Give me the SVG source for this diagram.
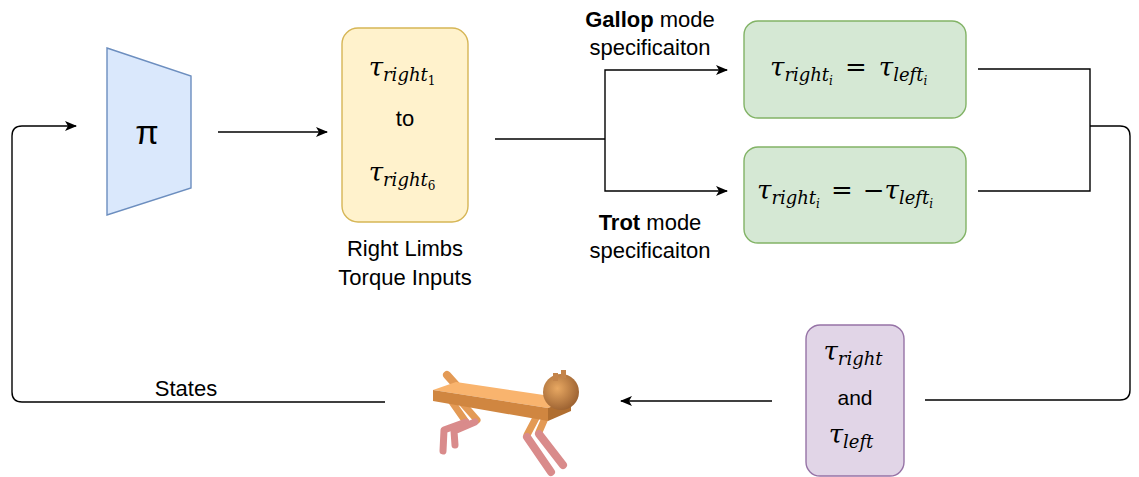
<svg xmlns="http://www.w3.org/2000/svg" width="1139" height="477" viewBox="0 0 1139 477">
  <defs>
    <marker id="arrow" viewBox="0 0 12 10" refX="11" refY="5" markerWidth="12" markerHeight="10" markerUnits="userSpaceOnUse" orient="auto">
      <path d="M0,0 L12,5 L0,10 L3,5 Z" fill="#000"/>
    </marker>
    <radialGradient id="headShade" cx="0.4" cy="0.4" r="0.65">
      <stop offset="0" stop-color="#e8a862"/>
      <stop offset="1" stop-color="#9a6030"/>
    </radialGradient>
  </defs>
  <style>
    .lbl { font-family: "Liberation Sans", Arial, sans-serif; font-size: 22px; fill: #000; }
    .math { font-family: "DejaVu Serif", "Liberation Serif", serif; font-style: italic; fill: #000; }
    .up { font-style: normal; }
    .wire { fill: none; stroke: #000; stroke-width: 1.4; }
    .tan { stroke: #e39a55; stroke-linecap: round; fill: none; }
    .pink { stroke: #d98b8b; stroke-linecap: round; fill: none; }
  </style>

  <rect width="1139" height="477" fill="#fff"/>

  <!-- connectors -->
  <g id="connectors">
    <path class="wire" d="M385,402 H22 Q12,402 12,392 V136 Q12,126 22,126 H76" marker-end="url(#arrow)"/>
    <path class="wire" d="M218,132 H327" marker-end="url(#arrow)"/>
    <path class="wire" d="M495,139 H605"/>
    <path class="wire" d="M605,139 V70 H727" marker-end="url(#arrow)"/>
    <path class="wire" d="M605,139 V191 H727" marker-end="url(#arrow)"/>
    <path class="wire" d="M978,69 H1090 V191 H978"/>
    <path class="wire" d="M1090,126 H1120 Q1130,126 1130,136 V390 Q1130,400 1120,400 H925"/>
    <path class="wire" d="M772,401 H621" marker-end="url(#arrow)"/>
  </g>

  <!-- policy network -->
  <g id="policy">
    <polygon points="107,48 191,76 191,188 107,215" fill="#dae8fc" stroke="#6c8ebf" stroke-width="1.4"/>
    <text x="147" y="144" class="lbl" style="font-size:34px" text-anchor="middle">π</text>
  </g>

  <!-- right limb torques -->
  <g id="right-torques">
    <rect x="342" y="28" width="126" height="194" rx="16" fill="#fff2cc" stroke="#d6b656" stroke-width="1.4"/>
    <text x="402" y="76" class="math" text-anchor="middle"><tspan font-size="26">τ</tspan><tspan font-size="18" dy="5">right</tspan><tspan class="up" font-size="12" dy="4">1</tspan></text>
    <text x="405" y="126" class="lbl" text-anchor="middle">to</text>
    <text x="402" y="181" class="math" text-anchor="middle"><tspan font-size="26">τ</tspan><tspan font-size="18" dy="5">right</tspan><tspan class="up" font-size="12" dy="4">6</tspan></text>
    <text x="405" y="256" class="lbl" text-anchor="middle">Right Limbs</text>
    <text x="405" y="285" class="lbl" text-anchor="middle">Torque Inputs</text>
  </g>

  <!-- gallop mode -->
  <g id="gallop">
    <text x="650" y="27" class="lbl" text-anchor="middle"><tspan font-weight="bold">Gallop</tspan> mode</text>
    <text x="650" y="55" class="lbl" text-anchor="middle">specificaiton</text>
    <rect x="744" y="21" width="222" height="97" rx="14" fill="#d5e8d4" stroke="#82b366" stroke-width="1.4"/>
    <text x="770" y="76" class="math"><tspan font-size="26">τ</tspan><tspan font-size="18" dy="5">right</tspan><tspan font-size="12" dy="4">i</tspan><tspan class="up" font-size="26" dy="-9" dx="12">=</tspan><tspan font-size="26" dx="12">τ</tspan><tspan font-size="18" dy="5">left</tspan><tspan font-size="12" dy="4">i</tspan></text>
  </g>

  <!-- trot mode -->
  <g id="trot">
    <rect x="744" y="147" width="222" height="96" rx="14" fill="#d5e8d4" stroke="#82b366" stroke-width="1.4"/>
    <text x="757" y="199" class="math"><tspan font-size="26">τ</tspan><tspan font-size="18" dy="5">right</tspan><tspan font-size="12" dy="4">i</tspan><tspan class="up" font-size="26" dy="-9" dx="11">=</tspan><tspan class="up" font-size="26" dx="10">−</tspan><tspan font-size="26">τ</tspan><tspan font-size="18" dy="5">left</tspan><tspan font-size="12" dy="4">i</tspan></text>
    <text x="650" y="230" class="lbl" text-anchor="middle"><tspan font-weight="bold">Trot</tspan> mode</text>
    <text x="650" y="258" class="lbl" text-anchor="middle">specificaiton</text>
  </g>

  <!-- combined torques -->
  <g id="all-torques">
    <rect x="806" y="325" width="98" height="151" rx="14" fill="#e1d5e7" stroke="#9673a6" stroke-width="1.4"/>
    <text x="853" y="360" class="math" text-anchor="middle"><tspan font-size="26">τ</tspan><tspan font-size="18" dy="5">right</tspan></text>
    <text x="855" y="405" class="lbl" style="font-size:21px" text-anchor="middle">and</text>
    <text x="851" y="443" class="math" text-anchor="middle"><tspan font-size="26">τ</tspan><tspan font-size="18" dy="5">left</tspan></text>
  </g>

  <!-- states label -->
  <g id="states">
    <text x="186" y="396" class="lbl" text-anchor="middle">States</text>
  </g>

  <!-- quadruped robot -->
  <g id="robot">
    <!-- rear legs -->
    <line class="tan" x1="452" y1="402" x2="466" y2="422" stroke-width="7"/>
    <line class="tan" x1="463" y1="404" x2="477" y2="420" stroke-width="7"/>
    <polyline class="pink" points="466,422 444,430 443,451" stroke-width="7" stroke-linejoin="round"/>
    <polyline class="pink" points="475,422 454,431 455,445" stroke-width="7" stroke-linejoin="round"/>
    <!-- front legs -->
    <line class="tan" x1="537" y1="416" x2="527" y2="435" stroke-width="7"/>
    <line class="tan" x1="546" y1="416" x2="539" y2="432" stroke-width="7"/>
    <line class="pink" x1="527" y1="437" x2="551" y2="472" stroke-width="8"/>
    <line class="pink" x1="539" y1="434" x2="563" y2="465" stroke-width="8"/>
    <!-- tail post -->
    <line class="tan" x1="447" y1="375" x2="456" y2="385" stroke-width="8"/>
    <!-- body plank -->
    <polygon points="433,390 456,382 571,399 548,408" fill="#f9b46e"/>
    <polygon points="433,390 548,408 548,421 433,401" fill="#d08640"/>
    <polygon points="548,408 571,399 571,411 548,421" fill="#b06e30"/>
    <!-- head -->
    <circle cx="561" cy="392" r="18" fill="url(#headShade)"/>
    <rect x="553" y="373" width="5" height="8" fill="#c4844a"/>
    <rect x="561" y="370" width="5" height="8" fill="#c4844a"/>
  </g>
</svg>
